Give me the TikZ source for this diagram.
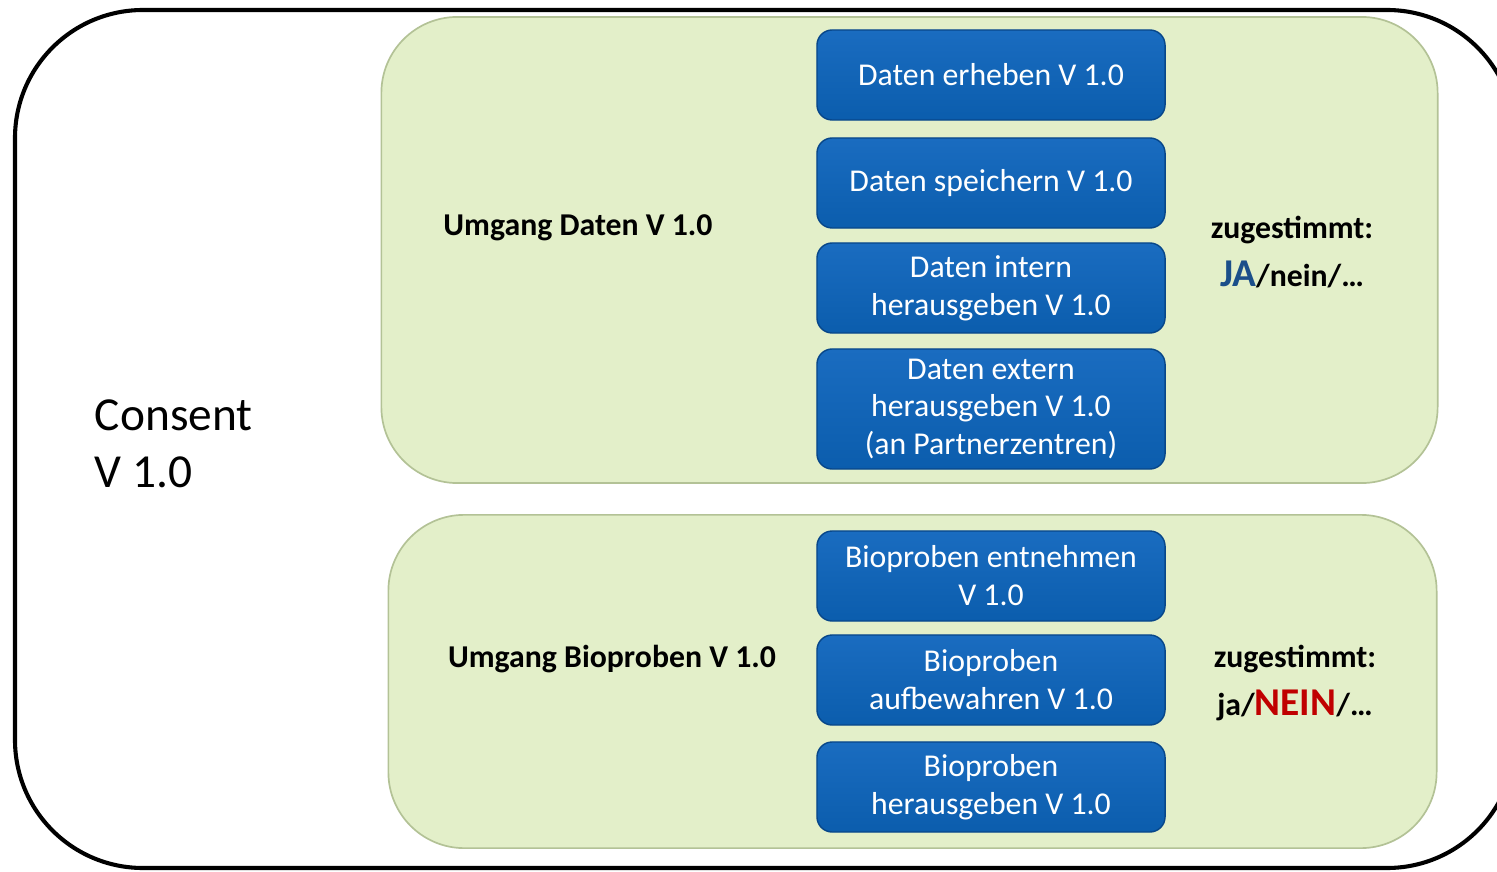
\documentclass[tikz,border=0pt]{standalone}
\usepackage{fontspec}
\setmainfont{Carlito}
\usetikzlibrary{shadows}

\definecolor{panelgreen}{HTML}{E3EFC9}
\definecolor{panelrim}{HTML}{B3C296}
\definecolor{boxblue}{HTML}{0B5DAD}
\definecolor{boxblueTop}{HTML}{1A6CC0}
\definecolor{boxrim}{HTML}{08478A}
\definecolor{jablue}{HTML}{1B4F8A}
\definecolor{neinred}{HTML}{C00000}

\tikzset{
  panel/.style={draw=panelrim, line width=1.2pt, fill=panelgreen,
    rounded corners=1.9cm, inner sep=0pt},
  stepbox/.style={draw=boxrim, line width=1pt, top color=boxblueTop,
    bottom color=boxblue, rounded corners=0.38cm, text=white,
    minimum width=8.7cm, align=center, inner sep=0pt,
    font=\fontsize{22.6}{27}\selectfont},
  grouplabel/.style={font=\fontsize{22.6}{27}\selectfont\bfseries, align=center},
}

\begin{document}
\begin{tikzpicture}[x=0.025cm, y=-0.025cm]
  \useasboundingbox (0,0) rectangle (1497,872);
  \clip (0,0) rectangle (1497,872);
  % Rahmen
  \draw[line width=2.9pt, rounded corners=3.2cm] (15,10) rectangle (1515,868);
  \node[anchor=west, align=left, font=\fontsize{33.7}{40.5}\selectfont]
    (consent) at (90,444) {Consent\\V 1.0};
  % Umgang Daten
  \node[panel, minimum width=26.4cm, minimum height=11.65cm] (daten) at (909.5,250) {};
  \node[grouplabel] (datenlabel) at (578,228) {Umgang Daten V 1.0};
  \node[grouplabel] (datenja) at (1292,252)
    {zugestimmt:\\[7pt]{\fontsize{28}{30}\selectfont\color{jablue}JA}/nein/\dots};
  \node[stepbox, minimum height=2.25cm] (erheben) at (991,75) {Daten erheben V 1.0};
  \node[stepbox, minimum height=2.25cm] (speichern) at (991,183) {Daten speichern V 1.0};
  \node[stepbox, minimum height=2.25cm] (intern) at (991,288) {Daten intern\\herausgeben V 1.0};
  \node[stepbox, minimum height=3cm] (extern) at (991,409)
    {Daten extern\\herausgeben V 1.0\\(an Partnerzentren)};
  % Umgang Bioproben
  \node[panel, minimum width=26.2cm, minimum height=8.33cm] (bio) at (912.5,681.5) {};
  \node[grouplabel] (biolabel) at (612,659) {Umgang Bioproben V 1.0};
  \node[grouplabel] (bionein) at (1295,683)
    {zugestimmt:\\[7pt]ja/{\fontsize{28}{30}\selectfont\color{neinred}NEIN}/\dots};
  \node[stepbox, minimum height=2.25cm] (entnehmen) at (991,576) {Bioproben entnehmen\\V 1.0};
  \node[stepbox, minimum height=2.25cm] (aufbewahren) at (991,680) {Bioproben\\aufbewahren V 1.0};
  \node[stepbox, minimum height=2.25cm] (bioheraus) at (991,787) {Bioproben\\herausgeben V 1.0};
\end{tikzpicture}
\end{document}
